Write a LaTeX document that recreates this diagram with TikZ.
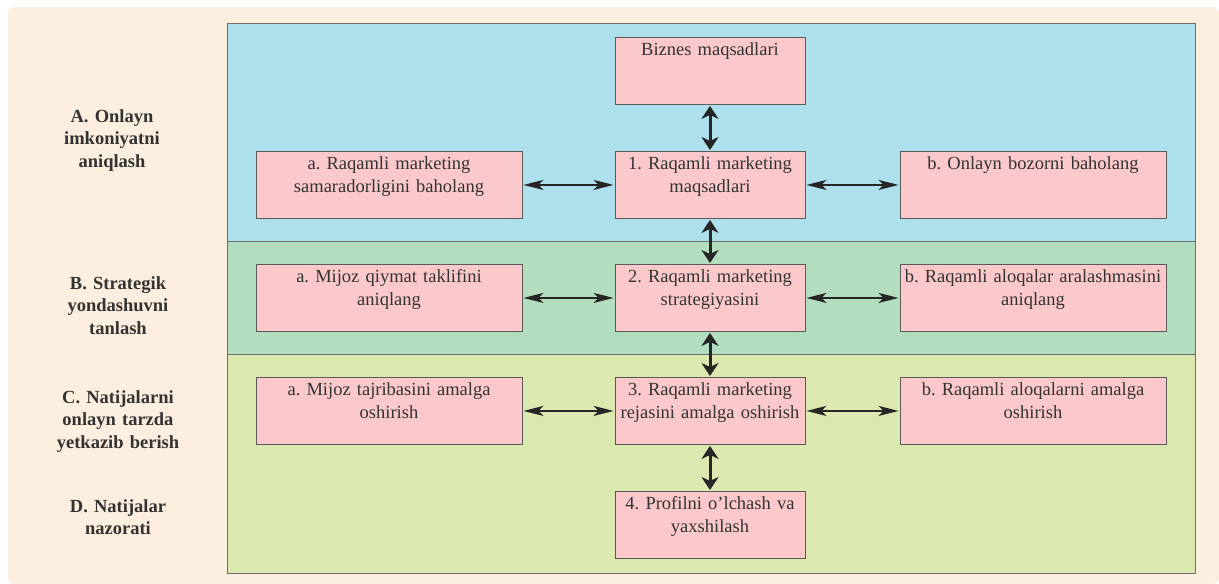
\documentclass[tikz,border=0pt]{standalone}
\usepackage{fontspec}
\setmainfont{Liberation Serif}
\usetikzlibrary{arrows.meta}
\definecolor{pagebg}{HTML}{FDEFE0}
\definecolor{bandA}{HTML}{ADDFED}
\definecolor{bandB}{HTML}{B3DDBF}
\definecolor{bandC}{HTML}{DBE8AF}
\definecolor{boxfill}{HTML}{FBC9CC}
\definecolor{boxline}{HTML}{5A5A5A}
\definecolor{bandline}{HTML}{6E6E6E}
\definecolor{ink}{HTML}{333333}
\frenchspacing
\begin{document}
\begin{tikzpicture}[x=1pt, y=-1pt,
    box/.style={draw=boxline, line width=0.9pt, fill=boxfill, inner sep=0pt,
      text height=18pt, text depth=49pt, align=center, anchor=north, text=ink,
      font=\fontsize{18.5}{23.5}\selectfont},
    wide/.style={box, text width=266pt},
    mid/.style={box, text width=190pt},
    stage/.style={text width=200pt, align=center, anchor=base, text=ink,
      font=\fontsize{18.5}{22.5}\selectfont\bfseries},
    band/.style={draw=bandline, line width=0.9pt},
    harrow/.style={{Stealth[length=20pt,width=10pt,inset=5pt]}-{Stealth[length=20pt,width=10pt,inset=5pt]},
      line width=1.5pt, draw=black!85, shorten <=1pt, shorten >=1pt},
    varrow/.style={{Stealth[length=13pt,width=17pt,inset=4pt]}-{Stealth[length=13pt,width=17pt,inset=4pt]},
      line width=3pt, draw=black!85, shorten <=1pt, shorten >=1pt}]
  \useasboundingbox (0,0) rectangle (1219,584);

  % page and bands
  \fill[pagebg, rounded corners=6pt] (8,7) -- (8,584) -- (1219,584) -- (1219,7) -- cycle;
  \filldraw[band, fill=bandA] (227,23) rectangle (1195,241);
  \filldraw[band, fill=bandB] (227,241) rectangle (1195,354);
  \filldraw[band, fill=bandC] (227,354) rectangle (1195,573);

  % stage labels
  \node[stage] (sa) at (112,122) {A. Onlayn\\imkoniyatni\\aniqlash};
  \node[stage] (sb) at (118,289) {B. Strategik\\yondashuvni\\tanlash};
  \node[stage] (sc) at (118,403) {C. Natijalarni\\onlayn tarzda\\yetkazib berish};
  \node[stage] (sd) at (118,512) {D. Natijalar\\nazorati};

  % boxes
  \node[mid] (biz) at (710,37) {Biznes maqsadlari};
  \node[wide] (a1) at (389,151) {a. Raqamli marketing\\samaradorligini baholang};
  \node[mid] (c1) at (710,151) {1. Raqamli marketing\\maqsadlari};
  \node[wide] (b1) at (1033,151) {b. Onlayn bozorni baholang};
  \node[wide] (a2) at (389,264) {a. Mijoz qiymat taklifini\\aniqlang};
  \node[mid] (c2) at (710,264) {2. Raqamli marketing\\strategiyasini};
  \node[wide] (b2) at (1033,264) {b. Raqamli aloqalar aralashmasini\\aniqlang};
  \node[wide] (a3) at (389,377) {a. Mijoz tajribasini amalga\\oshirish};
  \node[mid] (c3) at (710,377) {3. Raqamli marketing\\rejasini amalga oshirish};
  \node[wide] (b3) at (1033,377) {b. Raqamli aloqalarni amalga\\oshirish};
  \node[mid] (c4) at (710,491) {4. Profilni o'lchash va\\yaxshilash};

  % arrows
  \draw[varrow] (biz) -- (c1);
  \draw[varrow] (c1) -- (c2);
  \draw[varrow] (c2) -- (c3);
  \draw[varrow] (c3) -- (c4);
  \foreach \r in {1,2,3} {
    \draw[harrow] (a\r) -- (c\r);
    \draw[harrow] (c\r) -- (b\r);
  }
\end{tikzpicture}
\end{document}
